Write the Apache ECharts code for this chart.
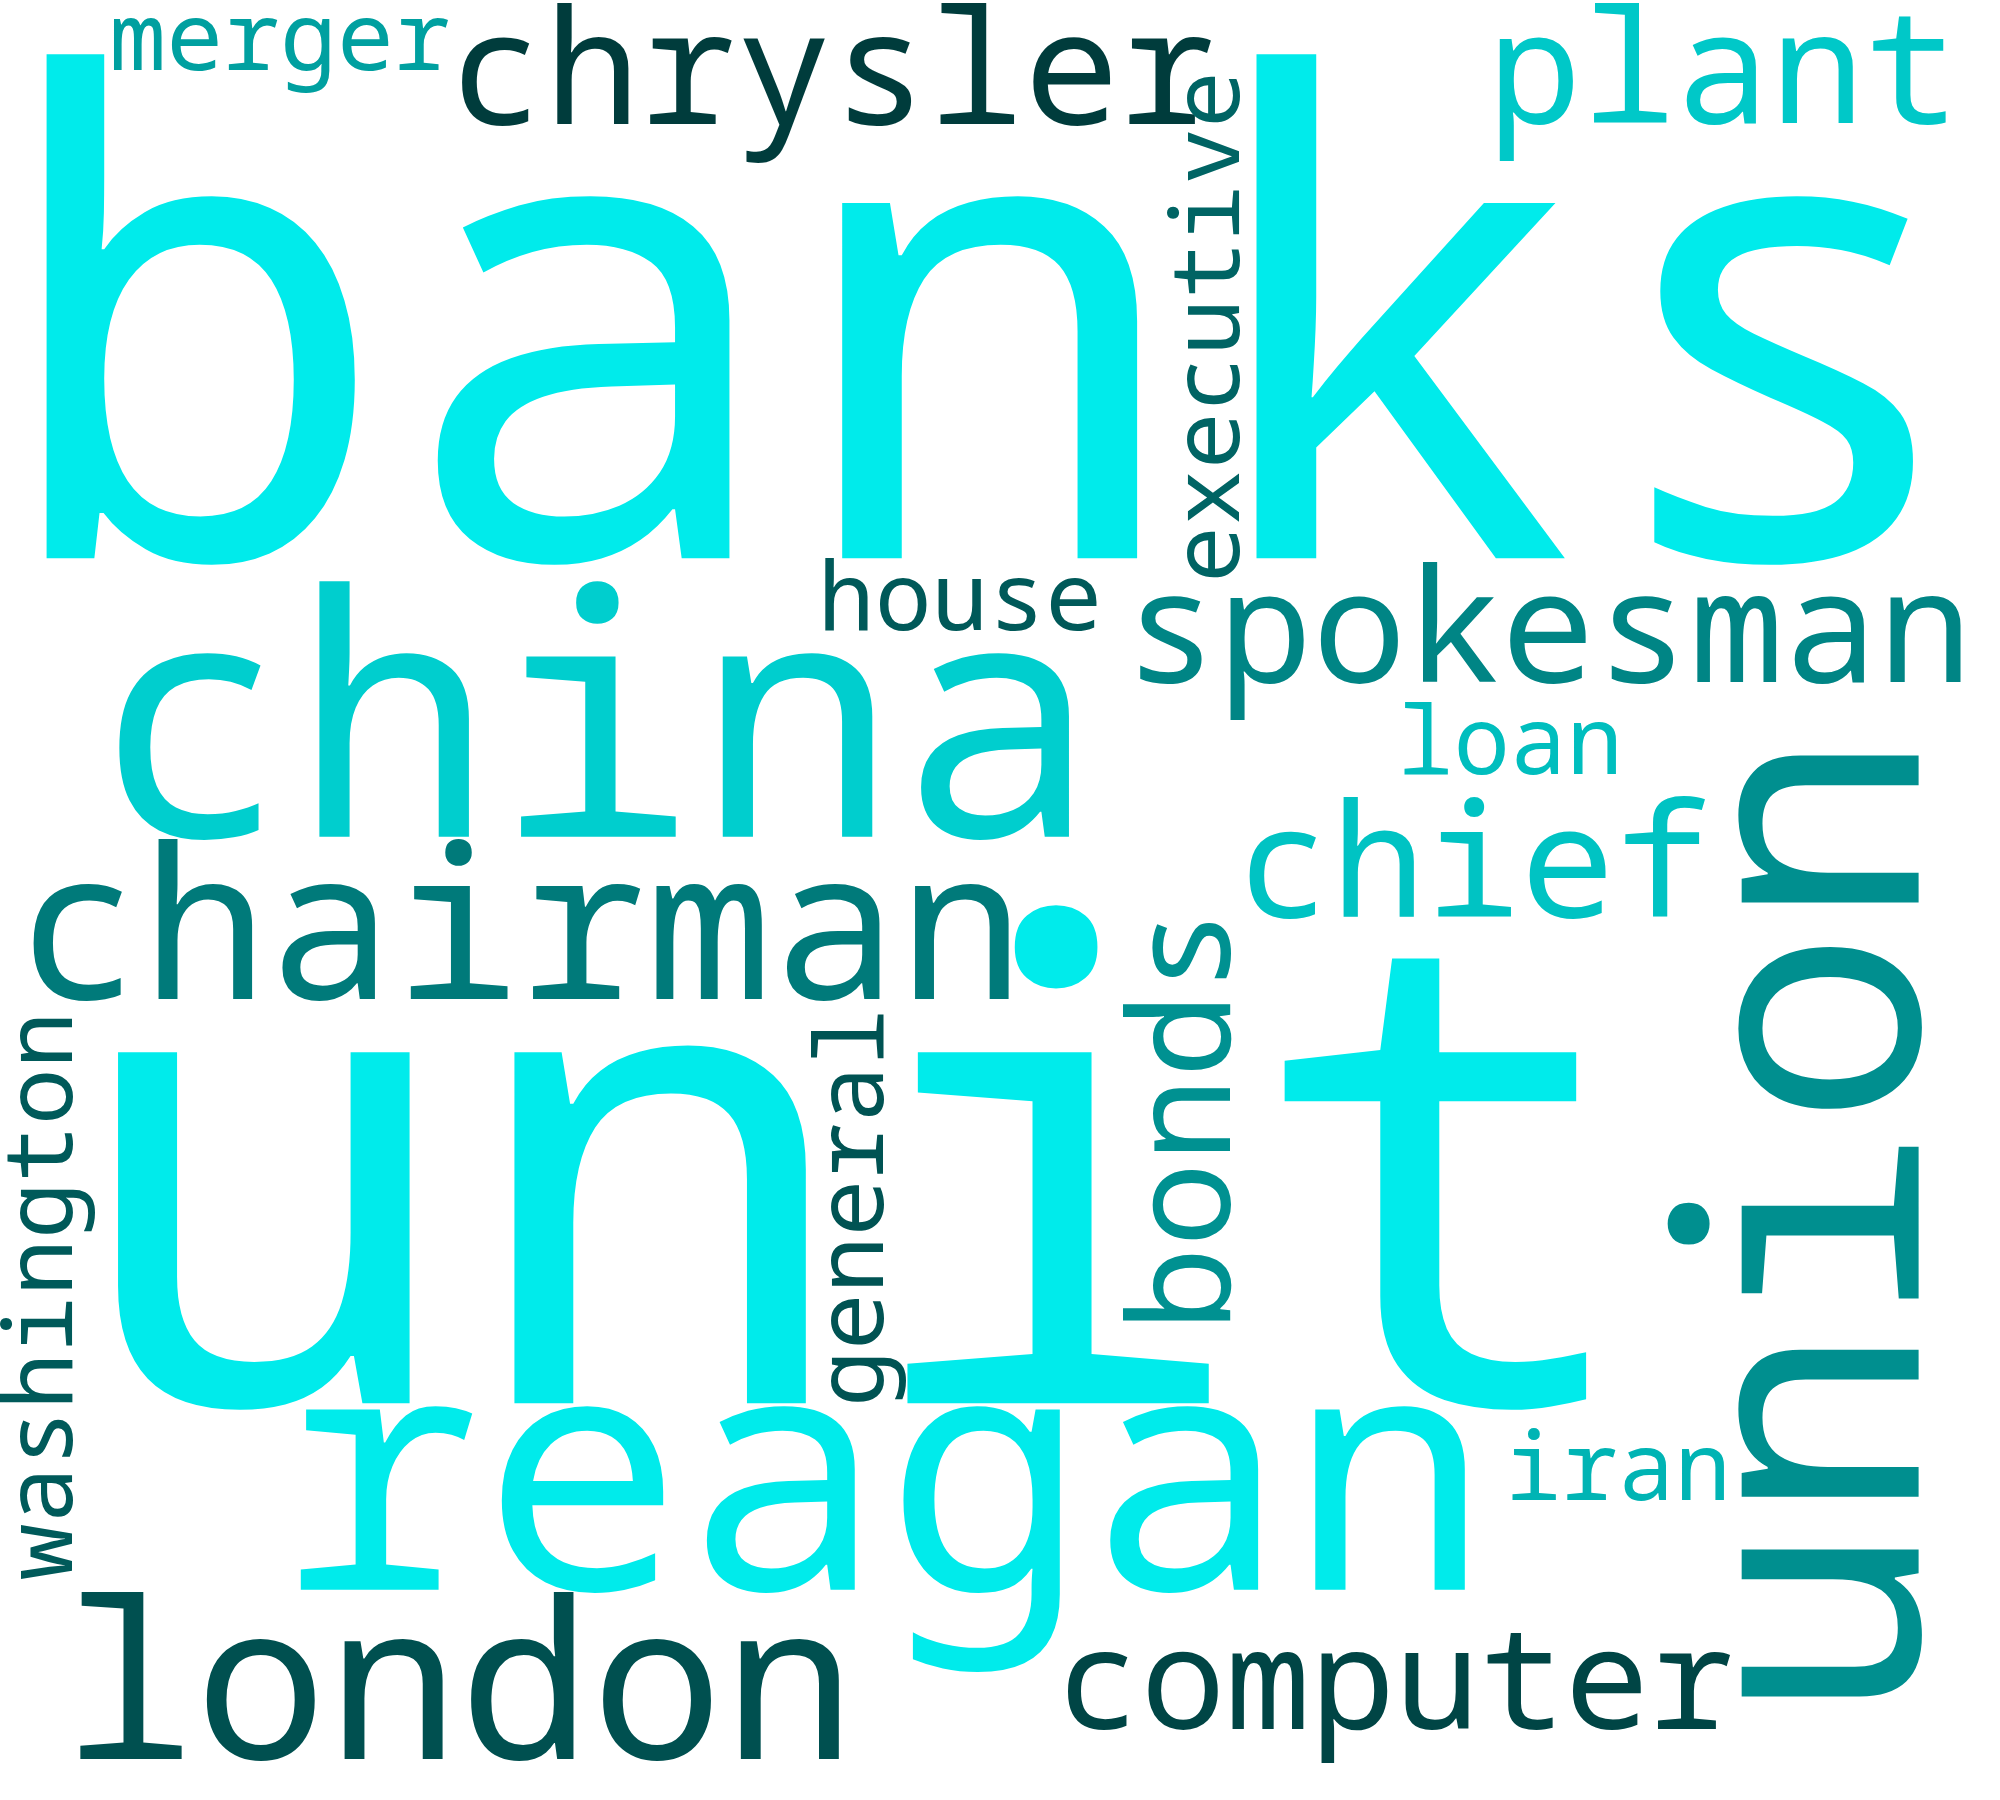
<!DOCTYPE html>
<html>
<head>
<meta charset="utf-8">
<script src="https://cdn.jsdelivr.net/npm/echarts@6/dist/echarts.min.js"></script>
<style>
html,body{margin:0;padding:0;background:#ffffff;}
#chart{width:2000px;height:1800px;}
</style>
</head>
<body>
<div id="chart"></div>
<script>
const words = ['banks','unit','china','reagan','union','london','chairman','chrysler','spokesman','chief','plant','computer','bonds','merger','house','loan','iran','executive','general','washington'];
const weights = [100, 98.8, 50.7, 50.7, 49.8, 33.2, 31.7, 24.1, 23.7, 23.8, 23.7, 21.3, 21.3, 14.3, 14.3, 14.2, 14.2, 14.3, 14.3, 14.3];
const colors = ['#00ebeb','#00ebeb','#00cece','#00ebeb','#008f8f','#005050','#007a7a','#003c3c','#008585','#00c3c3','#00c8c8','#004545','#009191','#00a0a0','#005959','#00bebe','#00b4b4','#006464','#005353','#005a5a'];

// Layout (word-cloud placement): baseline anchor point and rotation
const layoutX = [988, 855, 595, 885, 1917, 459, 520, 832, 1548, 1473, 1723, 1395, 1229, 280, 960, 1510, 1618, 1239, 883, 72];
const layoutY = [555, 1400, 835, 1588, 1226, 1758, 998, 123, 681, 916, 122, 1728, 1120, 70, 630, 774, 1500, 327, 1208, 1296];
const layoutRot = [0,0,0,0,90,0,0,0,0,0,0,0,90,0,0,0,0,90,90,90];

const FONT_SCALE = 6.63;
const BASE_OFF = 0.28; // baseline offset from text middle, in em
const FONT = "'Noto Sans Mono','Droid Sans Mono','DejaVu Sans Mono',monospace";

const data = words.map(function (w, i) {
  const fs = weights[i] * FONT_SCALE;
  let x = layoutX[i], y = layoutY[i];
  if (layoutRot[i] === 0) { y = y - BASE_OFF * fs; } else { x = x - BASE_OFF * fs; }
  return {
    name: w,
    value: [x, y, weights[i]],
    label: {
      show: true,
      formatter: w,
      fontSize: fs,
      fontFamily: FONT,
      color: colors[i],
      opacity: 1,
      rotate: layoutRot[i],
      position: 'inside',
      align: 'center',
      verticalAlign: 'middle'
    }
  };
});

const chart = echarts.init(document.getElementById('chart'), null, {renderer: 'canvas'});
chart.setOption({
  backgroundColor: '#ffffff',
  animation: false,
  grid: {left: 0, right: 0, top: 0, bottom: 0},
  xAxis: {type: 'value', min: 0, max: 2000, show: false},
  yAxis: {type: 'value', min: 0, max: 1800, inverse: true, show: false},
  series: [{
    type: 'scatter',
    silent: true,
    symbolSize: 1,
    itemStyle: {color: 'rgba(0,0,0,0)', opacity: 1},
    labelLayout: {hideOverlap: false},
    data: data
  }]
});
</script>
</body>
</html>
